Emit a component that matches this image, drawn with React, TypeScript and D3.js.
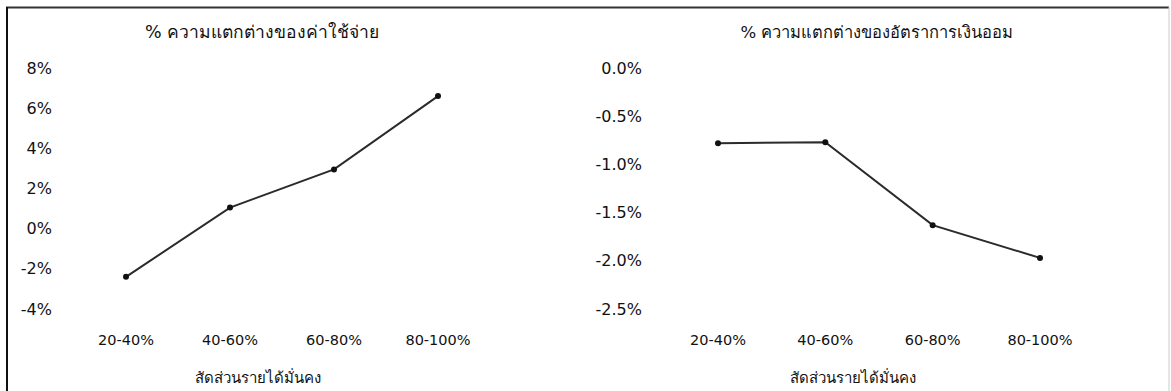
import * as d3 from 'd3'
import { useEffect, useRef } from 'react'

const categories = ['20-40%', '40-60%', '60-80%', '80-100%']
const expenseDiff = [-2.4, 1.05, 2.95, 6.6]
const savingDiff = [-0.78, -0.77, -1.63, -1.97]
const expenseTicks = [8, 6, 4, 2, 0, -2, -4]
const savingTicks = [0, -0.5, -1.0, -1.5, -2.0, -2.5]
const xTitle = 'สัดส่วนรายได้มั่นคง'

const W = 1171
const H = 391
const FONT = "Tahoma, 'DejaVu Sans', 'Noto Sans', sans-serif"

interface PanelSpec {
  title: string
  values: number[]
  ticks: number[]
  fmt: (v: number) => string
  labelRight: number // right edge of y tick labels
  xFirst: number
  xLast: number
  titleX: number
  titleSize: number
  axisTitleX: number
}

export default function App() {
  const svgRef = useRef<SVGSVGElement>(null)

  useEffect(() => {
    if (!svgRef.current) return
    const svg = d3.select(svgRef.current)
    svg.selectAll('*').remove()

    svg.append('rect').attr('width', W).attr('height', H).attr('fill', '#fff')

    // frame (scanned box: heavy top and left, faint right)
    svg.append('line').attr('x1', 6).attr('x2', 1169).attr('y1', 7.5).attr('y2', 7.5)
      .attr('stroke', '#333').attr('stroke-width', 2)
    svg.append('line').attr('x1', 7).attr('x2', 7).attr('y1', 7).attr('y2', H)
      .attr('stroke', '#111').attr('stroke-width', 2)
    svg.append('line').attr('x1', 1169).attr('x2', 1169).attr('y1', 7).attr('y2', H)
      .attr('stroke', '#ccc').attr('stroke-width', 1)

    const panels: PanelSpec[] = [
      {
        title: '% ความแตกต่างของค่าใช้จ่าย',
        values: expenseDiff,
        ticks: expenseTicks,
        fmt: (v) => `${v}%`,
        labelRight: 52,
        xFirst: 126,
        xLast: 438,
        titleX: 262,
        titleSize: 17.5,
        axisTitleX: 258,
      },
      {
        title: '% ความแตกต่างของอัตราการเงินออม',
        values: savingDiff,
        ticks: savingTicks,
        fmt: (v) => `${v.toFixed(1)}%`,
        labelRight: 642,
        xFirst: 718,
        xLast: 1040,
        titleX: 877,
        titleSize: 16.5,
        axisTitleX: 853,
      },
    ]

    panels.forEach((p) => {
      const g = svg.append('g')
      const x = d3.scalePoint<string>().domain(categories).range([p.xFirst, p.xLast])
      const y = d3
        .scaleLinear()
        .domain([d3.min(p.ticks)!, d3.max(p.ticks)!])
        .range([309, 68])

      g.append('text')
        .attr('x', p.titleX)
        .attr('y', 32)
        .attr('text-anchor', 'middle')
        .attr('dominant-baseline', 'central')
        .attr('font-size', p.titleSize)
        .attr('fill', '#111')
        .text(p.title)

      g.selectAll('.ytick')
        .data(p.ticks)
        .join('text')
        .attr('x', p.labelRight)
        .attr('y', (d) => y(d))
        .attr('text-anchor', 'end')
        .attr('dominant-baseline', 'central')
        .attr('font-size', 16)
        .attr('fill', '#111')
        .text((d) => p.fmt(d))

      g.selectAll('.xtick')
        .data(categories)
        .join('text')
        .attr('x', (d) => x(d)!)
        .attr('y', 340)
        .attr('text-anchor', 'middle')
        .attr('dominant-baseline', 'central')
        .attr('font-size', 14.5)
        .attr('fill', '#111')
        .text((d) => d)

      g.append('text')
        .attr('x', p.axisTitleX)
        .attr('y', 378)
        .attr('text-anchor', 'middle')
        .attr('dominant-baseline', 'central')
        .attr('font-size', 15)
        .attr('fill', '#111')
        .text(xTitle)

      const line = d3
        .line<number>()
        .x((_, i) => x(categories[i])!)
        .y((d) => y(d))

      g.append('path')
        .datum(p.values)
        .attr('d', line)
        .attr('fill', 'none')
        .attr('stroke', '#2b2b2b')
        .attr('stroke-width', 2)

      g.selectAll('.pt')
        .data(p.values)
        .join('circle')
        .attr('cx', (_, i) => x(categories[i])!)
        .attr('cy', (d) => y(d))
        .attr('r', 3)
        .attr('fill', '#111')
    })
  }, [])

  return (
    <svg
      ref={svgRef}
      width={W}
      height={H}
      style={{ position: 'absolute', left: 0, top: 0, display: 'block', fontFamily: FONT }}
    />
  )
}
